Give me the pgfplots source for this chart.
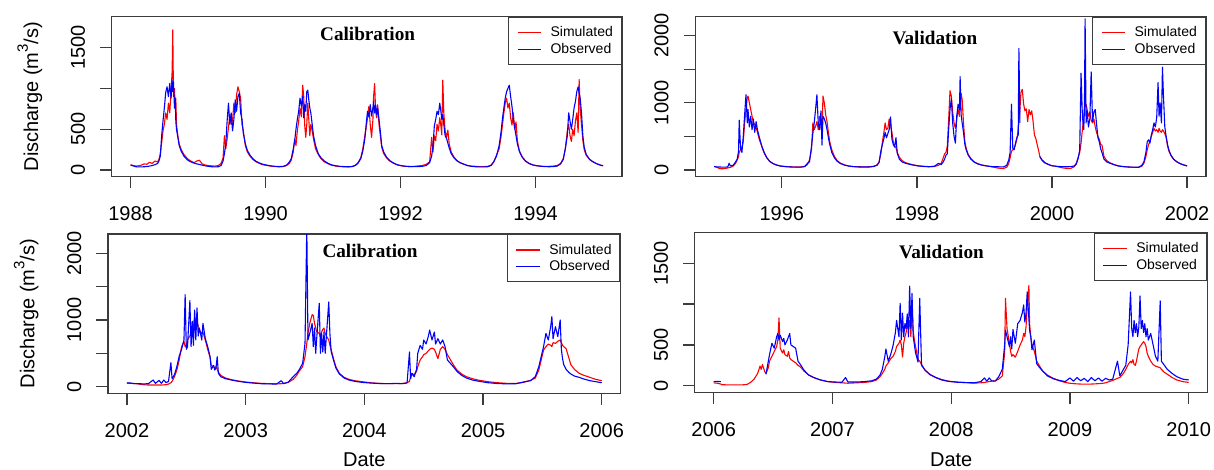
\documentclass[border=0pt]{standalone}
\usepackage{fontspec}
\setmainfont{Liberation Sans}
\newfontfamily\titlefont{Liberation Serif}
\usepackage{pgfplots}
\usepackage{pgfplotstable}
\pgfplotsset{compat=1.18}
\definecolor{framecol}{RGB}{60,60,60}
\definecolor{simred}{RGB}{255,0,0}
\definecolor{obsblue}{RGB}{0,0,255}

\pgfplotstableread{
t sim obs
1988.00 65 60
1988.04 55 50
1988.08 48 40
1988.12 52 38
1988.16 60 38
1988.20 75 40
1988.24 70 42
1988.28 95 48
1988.32 80 55
1988.36 110 65
1988.40 100 80
1988.42 130 110
1988.44 200 170
1988.46 330 420
1988.48 480 600
1988.50 560 760
1988.52 700 950
1988.54 620 1020
1988.56 820 900
1988.58 700 1060
1988.60 980 880
1988.615 1200 1100
1988.625 1716 960
1988.635 900 1080
1988.65 1000 760
1988.66 760 880
1988.67 880 600
1988.68 560 500
1988.70 420 400
1988.72 320 300
1988.75 250 230
1988.79 190 170
1988.84 140 125
1988.89 110 100
1988.94 90 85
1988.98 110 75
1989.02 120 68
1989.06 75 60
1989.10 62 52
1989.15 55 45
1989.20 50 40
1989.25 48 38
1989.30 55 40
1989.34 80 55
1989.37 150 110
1989.39 420 200
1989.41 260 320
1989.43 380 600
1989.45 520 820
1989.47 680 560
1989.49 560 700
1989.51 600 480
1989.53 820 620
1989.55 700 860
1989.57 920 720
1989.59 1020 900
1989.61 960 940
1989.63 880 700
1989.65 560 620
1989.67 480 450
1989.70 300 320
1989.73 220 240
1989.77 170 180
1989.81 130 140
1989.86 100 105
1989.91 80 85
1989.96 65 70
1990.02 55 60
1990.08 48 50
1990.14 42 45
1990.20 40 42
1990.26 42 44
1990.31 55 60
1990.35 80 95
1990.38 120 140
1990.41 220 260
1990.43 380 350
1990.45 300 500
1990.47 480 620
1990.49 600 720
1990.51 760 880
1990.53 650 780
1990.55 1040 900
1990.565 900 640
1990.58 540 800
1990.595 400 720
1990.61 560 960
1990.625 820 980
1990.64 620 860
1990.655 420 760
1990.67 560 700
1990.69 480 560
1990.71 380 420
1990.74 260 300
1990.78 190 200
1990.82 140 150
1990.87 100 110
1990.93 75 80
1990.98 58 62
1991.04 48 52
1991.10 42 45
1991.16 40 42
1991.22 38 40
1991.28 42 42
1991.33 60 55
1991.37 90 85
1991.41 150 140
1991.44 260 230
1991.47 420 380
1991.49 520 560
1991.51 640 720
1991.53 780 650
1991.55 560 800
1991.57 400 660
1991.59 620 760
1991.60 900 840
1991.615 1060 700
1991.63 720 800
1991.645 640 680
1991.66 800 760
1991.68 560 620
1991.70 420 470
1991.72 280 300
1991.75 200 220
1991.79 150 160
1991.84 110 115
1991.89 85 88
1991.95 62 65
1992.02 50 52
1992.08 45 45
1992.14 42 42
1992.20 45 42
1992.26 50 42
1992.32 55 45
1992.38 70 55
1992.43 100 90
1992.46 400 170
1992.48 220 300
1992.50 420 540
1992.52 360 620
1992.54 560 720
1992.56 480 680
1992.58 640 820
1992.60 520 700
1992.61 430 620
1992.625 1100 680
1992.64 700 560
1992.66 480 420
1992.68 400 390
1992.70 490 330
1992.72 320 270
1992.75 220 200
1992.79 160 150
1992.83 120 115
1992.88 90 90
1992.94 70 70
1992.99 55 55
1993.05 48 45
1993.11 45 40
1993.17 42 38
1993.23 42 38
1993.29 45 40
1993.34 60 55
1993.38 100 100
1993.42 180 170
1993.46 260 300
1993.49 420 480
1993.51 560 640
1993.53 700 760
1993.55 820 880
1993.57 880 960
1993.59 760 1000
1993.61 820 1040
1993.63 640 900
1993.65 550 780
1993.67 700 620
1993.69 500 520
1993.71 590 420
1993.73 360 320
1993.76 230 230
1993.80 160 160
1993.85 110 110
1993.90 80 82
1993.96 62 62
1994.02 52 52
1994.08 46 46
1994.14 44 42
1994.20 45 40
1994.26 48 42
1994.32 55 48
1994.37 80 75
1994.41 140 130
1994.44 260 260
1994.47 480 420
1994.49 560 700
1994.51 420 600
1994.53 350 500
1994.55 500 620
1994.57 420 760
1994.59 600 840
1994.61 700 960
1994.63 460 1020
1994.645 1110 940
1994.66 760 880
1994.68 560 700
1994.70 360 420
1994.72 250 280
1994.75 180 190
1994.80 130 130
1994.85 100 100
1994.91 75 75
1994.97 58 56
1995.00 55 52
}\tabA

\pgfplotstableread{
t sim obs
1995.00 55 50
1995.04 40 45
1995.08 20 45
1995.12 18 42
1995.16 22 42
1995.20 30 45
1995.22 35 100
1995.24 40 60
1995.28 60 70
1995.31 90 110
1995.34 150 160
1995.36 200 280
1995.37 260 740
1995.39 300 320
1995.41 340 260
1995.43 420 500
1995.45 700 820
1995.47 900 1120
1995.49 1080 700
1995.50 1100 900
1995.52 1000 640
1995.54 900 800
1995.56 800 600
1995.58 700 760
1995.60 680 560
1995.62 640 720
1995.64 560 600
1995.66 480 520
1995.68 420 440
1995.71 330 340
1995.74 250 260
1995.78 180 180
1995.82 130 130
1995.87 95 95
1995.92 75 75
1995.98 60 58
1996.05 52 50
1996.12 48 45
1996.20 45 42
1996.28 45 42
1996.34 55 50
1996.38 80 100
1996.41 150 120
1996.44 300 350
1996.46 700 540
1996.48 600 700
1996.50 650 900
1996.52 720 1120
1996.54 600 700
1996.56 800 600
1996.58 700 880
1996.595 560 370
1996.61 1100 800
1996.63 1000 760
1996.65 820 700
1996.67 720 600
1996.69 560 480
1996.71 420 380
1996.74 300 260
1996.78 200 180
1996.82 140 130
1996.87 100 95
1996.93 75 72
1996.99 60 58
1997.06 50 50
1997.14 48 45
1997.22 46 44
1997.30 48 45
1997.36 55 52
1997.41 75 70
1997.44 120 110
1997.47 260 300
1997.49 420 380
1997.51 550 460
1997.53 700 560
1997.55 600 480
1997.57 620 540
1997.59 760 600
1997.61 680 790
1997.63 560 460
1997.65 420 380
1997.67 360 340
1997.69 330 480
1997.71 260 250
1997.74 190 160
1997.78 140 120
1997.83 110 100
1997.89 90 85
1997.95 75 72
1998.02 62 60
1998.10 55 52
1998.18 50 48
1998.26 52 55
1998.32 70 100
1998.36 100 80
1998.39 180 120
1998.41 240 160
1998.43 260 220
1998.45 350 240
1998.47 740 600
1998.49 1180 900
1998.51 1100 1060
1998.53 860 700
1998.55 700 500
1998.57 620 400
1998.59 760 800
1998.61 900 980
1998.63 800 900
1998.64 1000 1390
1998.655 1140 820
1998.67 1050 700
1998.69 700 560
1998.71 420 380
1998.73 320 300
1998.76 230 220
1998.80 170 160
1998.85 120 115
1998.90 95 90
1998.96 75 72
1999.04 60 58
1999.12 45 50
1999.20 28 48
1999.28 22 45
1999.33 40 70
1999.36 100 150
1999.38 180 260
1999.40 280 980
1999.42 300 320
1999.44 320 300
1999.46 380 400
1999.48 460 480
1999.50 600 520
1999.51 700 1810
1999.525 900 700
1999.54 1150 nan
1999.56 1200 nan
1999.58 980 nan
1999.60 880 nan
1999.62 910 nan
1999.64 720 nan
1999.66 900 nan
1999.68 820 nan
1999.70 880 nan
1999.72 720 nan
1999.74 520 nan
1999.76 470 nan
1999.78 380 nan
1999.80 300 nan
1999.82 200 200
1999.85 150 150
1999.89 110 110
1999.94 85 85
1999.99 65 65
2000.06 55 55
2000.14 35 50
2000.22 22 48
2000.28 25 50
2000.33 50 60
2000.36 100 90
2000.39 200 180
2000.41 260 300
2000.43 400 1440
2000.45 600 800
2000.47 800 600
2000.48 920 900
2000.49 950 2250
2000.505 980 700
2000.52 900 880
2000.54 800 640
2000.56 860 760
2000.58 740 1460
2000.60 700 720
2000.62 760 860
2000.64 640 900
2000.66 560 680
2000.68 500 480
2000.70 460 420
2000.72 380 320
2000.74 370 260
2000.77 200 160
2000.81 140 120
2000.86 105 100
2000.92 80 78
2000.98 62 60
2001.05 52 50
2001.12 45 45
2001.20 40 42
2001.28 38 40
2001.33 55 70
2001.36 100 120
2001.39 200 260
2001.41 300 420
2001.43 380 450
2001.45 420 400
2001.47 500 520
2001.49 560 600
2001.51 620 700
2001.53 580 640
2001.55 600 780
2001.57 560 1300
2001.585 620 800
2001.60 580 1000
2001.62 560 700
2001.635 600 1530
2001.65 580 1100
2001.67 540 640
2001.69 480 500
2001.71 360 380
2001.73 280 300
2001.76 220 220
2001.80 160 160
2001.85 120 120
2001.90 95 92
2001.95 75 75
2002.00 60 60
}\tabB

\pgfplotstableread{
t sim obs
2002.00 55 55
2002.03 50 55
2002.06 48 45
2002.10 40 45
2002.14 30 42
2002.18 25 45
2002.22 25 100
2002.24 25 50
2002.27 25 95
2002.29 25 50
2002.31 28 100
2002.33 30 60
2002.35 40 80
2002.37 60 360
2002.38 80 120
2002.40 150 180
2002.42 250 300
2002.44 400 460
2002.46 600 560
2002.48 680 700
2002.49 600 1380
2002.50 620 560
2002.51 700 600
2002.53 760 1290
2002.54 820 600
2002.55 860 980
2002.56 900 620
2002.57 1050 1150
2002.58 960 700
2002.59 1000 1180
2002.60 900 760
2002.61 850 880
2002.63 800 700
2002.64 820 950
2002.66 700 720
2002.68 560 600
2002.70 440 450
2002.71 320 260
2002.73 300 320
2002.74 280 250
2002.75 300 280
2002.76 260 450
2002.77 220 200
2002.79 170 150
2002.83 130 120
2002.88 105 100
2002.94 85 80
2003.00 70 65
2003.06 60 55
2003.13 50 45
2003.20 45 42
2003.26 42 40
2003.30 45 90
2003.32 50 45
2003.36 65 70
2003.40 110 150
2003.43 170 200
2003.45 230 250
2003.48 300 350
2003.50 450 650
2003.515 650 2400
2003.525 800 700
2003.54 950 800
2003.56 1080 950
2003.57 1070 600
2003.58 950 880
2003.59 880 500
2003.60 820 760
2003.62 800 1250
2003.63 760 500
2003.64 820 800
2003.65 860 520
2003.66 880 820
2003.67 800 500
2003.68 760 760
2003.70 700 1270
2003.71 620 790
2003.72 560 530
2003.74 420 400
2003.76 300 280
2003.79 200 190
2003.83 140 130
2003.87 110 100
2003.92 90 80
2003.98 75 65
2004.05 60 55
2004.12 50 48
2004.20 45 45
2004.27 45 50
2004.32 48 45
2004.36 60 55
2004.38 80 520
2004.39 150 120
2004.40 200 200
2004.42 180 150
2004.44 230 260
2004.45 300 500
2004.47 400 620
2004.49 450 560
2004.50 480 700
2004.52 500 640
2004.54 540 760
2004.55 560 850
2004.57 580 700
2004.59 560 820
2004.60 520 640
2004.62 420 720
2004.64 560 640
2004.66 600 700
2004.68 560 600
2004.70 480 400
2004.72 420 360
2004.75 330 300
2004.78 250 230
2004.82 190 170
2004.86 150 130
2004.91 120 100
2004.97 95 80
2005.04 75 60
2005.12 60 48
2005.20 50 42
2005.28 50 45
2005.34 65 70
2005.40 95 90
2005.44 130 150
2005.47 250 300
2005.49 400 450
2005.51 550 600
2005.53 600 800
2005.55 640 700
2005.57 620 900
2005.58 600 1050
2005.59 660 720
2005.61 650 900
2005.63 680 750
2005.65 700 1000
2005.66 660 560
2005.67 620 420
2005.68 600 330
2005.70 570 260
2005.72 450 220
2005.74 330 190
2005.77 260 160
2005.81 200 140
2005.85 170 115
2005.90 140 90
2005.95 110 75
2006.00 90 60
}\tabC

\pgfplotstableread{
t sim obs
2006.00 35 50
2006.03 30 52
2006.06 20 50
2006.07 12 nan
2006.12 10 nan
2006.18 10 nan
2006.24 10 nan
2006.28 15 nan
2006.31 40 nan
2006.34 80 nan
2006.37 150 nan
2006.39 240 nan
2006.40 200 nan
2006.41 260 nan
2006.43 170 nan
2006.44 150 140
2006.46 220 300
2006.47 300 380
2006.49 360 520
2006.51 420 460
2006.53 480 600
2006.54 560 640
2006.55 830 560
2006.56 460 620
2006.58 400 540
2006.59 440 580
2006.60 380 500
2006.62 360 560
2006.63 420 600
2006.64 340 640
2006.65 320 500
2006.67 300 480
2006.69 280 460
2006.71 250 300
2006.73 230 260
2006.76 180 190
2006.80 130 130
2006.85 95 95
2006.90 70 70
2006.96 50 50
2007.02 40 45
2007.08 35 42
2007.11 32 100
2007.13 30 45
2007.20 35 45
2007.27 40 50
2007.33 50 60
2007.37 70 80
2007.40 110 130
2007.42 150 200
2007.44 200 350
2007.45 240 450
2007.47 280 300
2007.49 330 380
2007.51 360 490
2007.53 420 650
2007.54 480 800
2007.56 520 600
2007.57 560 1010
2007.58 500 560
2007.59 350 890
2007.60 520 600
2007.61 600 760
2007.62 650 700
2007.63 760 880
2007.64 700 600
2007.65 800 1220
2007.66 600 700
2007.67 980 1130
2007.68 670 600
2007.69 560 500
2007.70 480 400
2007.71 400 350
2007.72 320 290
2007.735 300 1070
2007.75 260 250
2007.78 190 190
2007.82 140 135
2007.87 100 100
2007.92 75 70
2007.98 55 52
2008.05 45 42
2008.12 38 38
2008.19 32 35
2008.25 35 50
2008.28 40 95
2008.30 45 55
2008.32 50 95
2008.34 55 60
2008.37 60 55
2008.40 80 110
2008.43 120 200
2008.45 400 500
2008.457 1070 680
2008.47 700 600
2008.49 520 480
2008.50 420 600
2008.51 360 450
2008.52 380 690
2008.54 350 520
2008.56 420 760
2008.58 500 800
2008.60 560 900
2008.61 640 990
2008.62 600 780
2008.63 720 890
2008.64 970 1150
2008.654 1230 820
2008.66 760 680
2008.67 600 600
2008.68 500 440
2008.70 420 560
2008.72 300 270
2008.74 250 230
2008.77 180 180
2008.81 130 120
2008.86 90 85
2008.91 60 65
2008.96 40 50
2009.00 30 95
2009.03 25 55
2009.06 22 100
2009.09 20 60
2009.12 20 90
2009.15 20 50
2009.18 20 100
2009.21 22 60
2009.24 25 95
2009.27 28 55
2009.30 35 90
2009.33 50 70
2009.36 65 80
2009.40 90 300
2009.42 100 120
2009.45 150 200
2009.47 200 250
2009.49 260 500
2009.51 300 1150
2009.52 280 700
2009.53 320 600
2009.54 260 800
2009.55 250 650
2009.56 300 760
2009.57 380 600
2009.58 450 720
2009.59 480 1100
2009.60 500 700
2009.61 520 800
2009.62 540 650
2009.63 520 760
2009.64 480 600
2009.65 400 700
2009.66 360 560
2009.68 300 640
2009.70 260 500
2009.72 240 360
2009.74 230 300
2009.76 220 1040
2009.77 200 300
2009.79 170 260
2009.82 140 200
2009.86 100 150
2009.90 70 110
2009.95 50 80
2010.00 40 70
}\tabD

\tikzset{ttl/.style={font=\titlefont\bfseries\fontsize{19.2}{20}\selectfont, anchor=base, inner sep=0pt}}
\newcommand{\labfont}{\fontsize{20}{20}\selectfont}
\newcommand{\disch}{Discharge (m\raisebox{0.5em}{\fontsize{15}{15}\selectfont 3}/s)}

\pgfplotsset{
  hydro/.style={
    scale only axis,
    anchor=south west,
    axis line style={framecol, line width=1.3pt},
    tick align=outside,
    xtick pos=left, ytick pos=left,
    major tick length=11.7pt,
    tick style={framecol, line width=1.3pt},
    minor tick num=0,
    tick label style={font=\labfont, inner sep=0pt},
    xticklabel style={anchor=base, yshift=-32.3pt},
    yticklabel style={xshift=-14.8pt, rotate=90, anchor=south},
    every axis x label/.style={at={(rel axis cs:0.5,0)}, anchor=base, yshift=-73.4pt, font=\labfont, inner sep=0pt},
    every axis y label/.style={at={(rel axis cs:0,0.5)}, xshift=-73.7pt, rotate=90, anchor=base, font=\labfont, inner sep=0pt},
    unbounded coords=jump,
    legend style={at={(1,1)}, anchor=north east, draw=framecol, line width=1.3pt,
      fill=white, font=\fontsize{14}{14}\selectfont, inner xsep=8.5pt, inner ysep=9.5pt,
      row sep=4.9pt, nodes={inner sep=0pt}, /tikz/every odd column/.append style={column sep=9pt}},
    legend cell align=left,
    legend image code/.code={\draw[#1, line width=1.1pt] (0pt,0pt) -- (23.3pt,0pt);},
    every axis plot/.append style={line width=1.1pt, line join=round},
  },
}

\begin{document}
\begin{tikzpicture}
\useasboundingbox (0pt,0pt) rectangle (1214pt,469pt);

\begin{axis}[hydro, at={(111.7pt,292.3pt)}, width=510.3pt, height=160pt,
  xmin=1987.72, xmax=1995.28, ymin=-82, ymax=1879,
  xtick={1988,1990,1992,1994}, xticklabels={1988,1990,1992,1994},
  ytick={0,500,1000,1500}, yticklabels={0,500,,1500},
  ylabel={\disch}]
\addplot[simred] table[x index=0, y index=1]{\tabA};
\addplot[obsblue] table[x index=0, y index=2]{\tabA};
\legend{Simulated, Observed}
\node[ttl] at (rel axis cs:0.5015,1) [yshift=-24.3pt] {Calibration};
\end{axis}

\begin{axis}[hydro, at={(695.3pt,292.3pt)}, width=510.7pt, height=160pt,
  xmin=1994.72, xmax=2002.28, ymin=-100, ymax=2281,
  xtick={1996,1998,2000,2002}, xticklabels={1996,1998,2000,2002},
  ytick={0,500,1000,1500,2000}, yticklabels={0,,1000,,2000}]
\addplot[simred] table[x index=0, y index=1]{\tabB};
\addplot[obsblue] table[x index=0, y index=2]{\tabB};
\legend{Simulated, Observed}
\node[ttl] at (rel axis cs:0.469,1) [yshift=-27.6pt] {Validation};
\end{axis}

\begin{axis}[hydro, at={(108pt,75.7pt)}, width=512.7pt, height=159.3pt,
  xmin=2001.84, xmax=2006.16, ymin=-99, ymax=2289,
  xtick={2002,2003,2004,2005,2006}, xticklabels={2002,2003,2004,2005,2006},
  ytick={0,500,1000,1500,2000}, yticklabels={0,,1000,,2000},
  xlabel={Date}, ylabel={\disch}]
\addplot[simred] table[x index=0, y index=1]{\tabC};
\addplot[obsblue] table[x index=0, y index=2]{\tabC};
\legend{Simulated, Observed}
\node[ttl] at (rel axis cs:0.511,1) [yshift=-23.3pt] {Calibration};
\end{axis}

\begin{axis}[hydro, at={(694.7pt,76.3pt)}, width=513pt, height=160pt,
  xmin=2005.84, xmax=2010.16, ymin=-86, ymax=1875,
  xtick={2006,2007,2008,2009,2010}, xticklabels={2006,2007,2008,2009,2010},
  ytick={0,500,1000,1500}, yticklabels={0,500,,1500},
  xlabel={Date}]
\addplot[simred] table[x index=0, y index=1]{\tabD};
\addplot[obsblue] table[x index=0, y index=2]{\tabD};
\legend{Simulated, Observed}
\node[ttl] at (rel axis cs:0.481,1) [yshift=-25.6pt] {Validation};
\end{axis}
\end{tikzpicture}
\end{document}
